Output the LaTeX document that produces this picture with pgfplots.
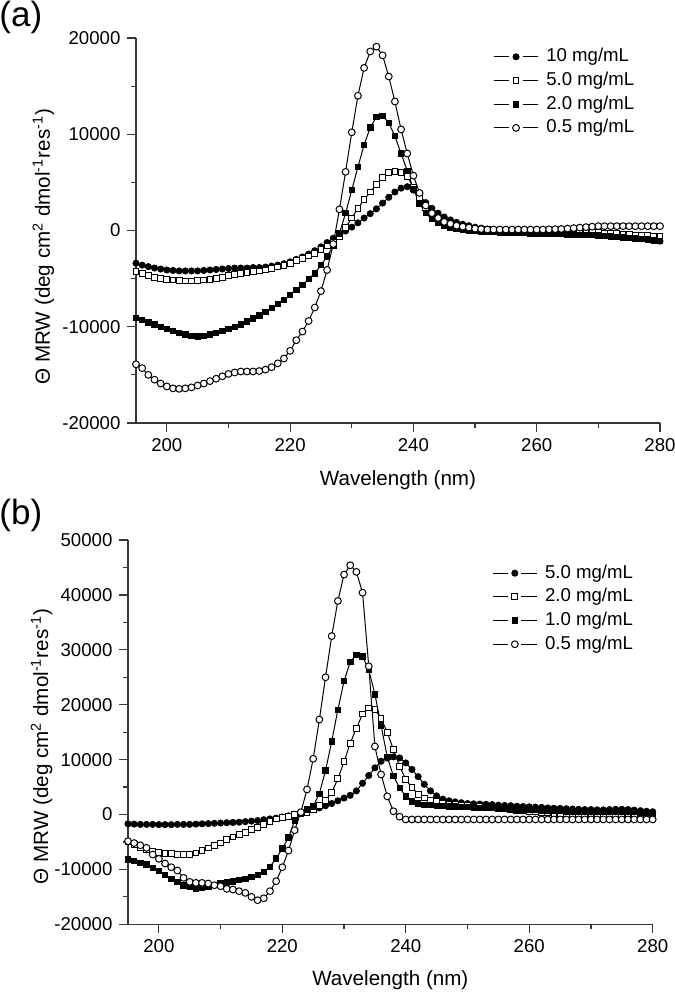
\documentclass[border=0pt]{standalone}
\usepackage{fontspec}
\setmainfont{Liberation Sans}
\usepackage{pgfplots}
\usepackage{pgfplotstable}
\pgfplotsset{compat=1.18}
\definecolor{axc}{RGB}{55,55,55}

\pgfplotstableread{
x a10 a5 a2 a05
195 -3400 -4300 -9100 -13900
196 -3600 -4500 -9300 -14300
197 -3750 -4700 -9550 -15000
198 -3900 -4850 -9750 -15500
199 -4000 -5000 -10000 -15900
200 -4100 -5100 -10200 -16200
201 -4150 -5150 -10450 -16400
202 -4200 -5200 -10650 -16450
203 -4200 -5250 -10800 -16400
204 -4200 -5250 -10950 -16300
205 -4200 -5200 -11000 -16100
206 -4150 -5150 -10950 -15900
207 -4100 -5050 -10800 -15650
208 -4050 -4950 -10650 -15400
209 -4000 -4850 -10450 -15150
210 -3950 -4700 -10200 -14900
211 -3900 -4600 -10000 -14750
212 -3900 -4500 -9750 -14650
213 -3900 -4400 -9450 -14650
214 -3850 -4300 -9150 -14650
215 -3850 -4200 -8800 -14600
216 -3800 -4100 -8450 -14450
217 -3700 -3950 -8050 -14200
218 -3600 -3800 -7650 -13800
219 -3450 -3600 -7200 -13300
220 -3250 -3400 -6700 -12500
221 -3000 -3150 -6200 -11400
222 -2750 -2900 -5650 -10500
223 -2450 -2650 -5050 -9400
224 -2100 -2350 -4450 -8000
225 -1700 -2000 -3600 -6300
226 -1250 -1600 -2700 -4100
227 -800 -1200 -1600 -1400
228 -400 -600 -300 2200
229 -50 300 1800 6100
230 350 1300 4200 10200
231 800 2300 6600 14000
232 1300 3200 8900 16900
233 1750 4000 10700 18600
234 2250 4800 11800 19100
235 2850 5500 11900 18200
236 3450 6000 11200 16000
237 4000 6100 9800 13400
238 4400 6050 8000 10500
239 4550 5600 6200 8000
240 4200 4500 4300 5700
241 3600 3300 2800 3900
242 2900 2400 1800 2600
243 2300 1800 1200 1800
244 1800 1300 800 1300
245 1400 950 500 900
246 1100 700 300 700
247 850 500 150 500
248 650 350 50 400
249 500 250 0 300
250 350 150 -50 200
251 250 100 -100 150
252 150 80 -130 100
253 100 60 -160 100
254 50 40 -190 100
255 0 20 -210 100
256 -50 0 -230 100
257 -100 0 -250 100
258 -150 -20 -270 100
259 -200 -40 -290 100
260 -250 -60 -300 100
261 -270 -80 -320 100
262 -290 -90 -340 120
263 -310 -100 -360 140
264 -330 -110 -380 160
265 -350 -120 -400 200
266 -370 -130 -420 250
267 -390 -150 -440 300
268 -410 -170 -460 350
269 -430 -190 -480 400
270 -450 -210 -500 450
271 -500 -250 -550 450
272 -550 -290 -600 450
273 -600 -330 -650 450
274 -650 -370 -700 450
275 -700 -410 -750 450
276 -780 -460 -800 450
277 -860 -510 -870 450
278 -940 -560 -940 450
279 -1020 -610 -1010 450
280 -1100 -650 -1080 450
}\tabA

\pgfplotstableread{
x b5 b2 b1 b05
195 -1700 -5000 -8200 -4860
196 -1750 -5500 -8500 -5200
197 -1800 -6000 -8800 -5600
198 -1800 -6400 -9100 -6070
199 -1800 -6700 -9700 -7290
200 -1850 -6900 -10300 -8080
201 -1850 -7050 -11000 -8930
202 -1850 -7150 -11700 -9600
203 -1800 -7250 -12300 -10200
204 -1800 -7300 -12900 -11540
205 -1800 -7250 -13200 -12270
206 -1750 -7000 -13450 -12450
207 -1700 -6550 -13400 -12450
208 -1650 -6100 -13100 -12570
209 -1600 -5650 -12800 -12880
210 -1550 -5200 -12550 -13060
211 -1500 -4600 -12350 -13540
212 -1450 -4100 -12150 -13670
213 -1400 -3650 -11950 -13970
214 -1300 -3250 -11700 -14270
215 -1200 -2800 -11400 -15000
216 -1100 -2400 -11000 -15610
217 -950 -1850 -10500 -15250
218 -800 -1250 -9500 -13970
219 -650 -800 -8000 -12150
220 -450 -600 -6200 -9600
221 -250 -300 -4200 -6560
222 0 0 -1100 -2860
223 250 100 300 420
224 550 400 900 4560
225 900 900 1500 10150
226 1200 1600 3800 17300
227 1600 2600 8000 25000
228 2000 4000 13300 32500
229 2500 6500 19100 38900
230 3000 9600 24300 43700
231 3500 13000 27800 45400
232 4300 15700 29100 44200
233 5700 18300 28800 40400
234 7100 19400 26400 27000
235 8500 19100 21900 12400
236 9700 17500 16200 7300
237 10300 15000 10500 3300
238 10500 11800 7000 600
239 10300 8800 4900 -400
240 9400 6400 3300 -900
241 8200 4900 2400 -900
242 6900 3700 2000 -900
243 5500 3000 1800 -900
244 4300 2600 1700 -900
245 3400 2300 1600 -900
246 2800 2100 1550 -900
247 2500 1900 1500 -900
248 2300 1800 1450 -900
249 2150 1700 1400 -900
250 2000 1600 1350 -900
251 1950 1500 1300 -900
252 1900 1400 1250 -900
253 1850 1300 1200 -900
254 1800 1200 1150 -900
255 1700 1100 1100 -900
256 1650 1000 1050 -900
257 1600 900 1000 -900
258 1500 800 950 -900
259 1450 700 900 -900
260 1400 600 850 -900
261 1350 500 800 -900
262 1300 400 760 -900
263 1200 300 720 -900
264 1150 200 680 -900
265 1100 100 640 -900
266 1050 0 600 -900
267 1000 -100 570 -900
268 950 -150 540 -900
269 900 -200 510 -900
270 900 -250 480 -900
271 850 -280 470 -900
272 850 -300 500 -900
273 900 -320 550 -900
274 950 -340 600 -900
275 950 -360 600 -900
276 900 -380 550 -900
277 800 -400 450 -900
278 700 -420 350 -900
279 600 -440 250 -900
280 500 -450 150 -900
}\tabB

\pgfplotsset{
  myaxis/.style={
    scale only axis,
    xmin=195, xmax=280,
    axis x line*=bottom, axis y line*=left,
    tick align=outside,
    xtick={200,220,240,260,280},
    minor x tick num=1, minor y tick num=1,
    scaled y ticks=false, scaled x ticks=false,
    major tick length=4.3bp, minor tick length=2.4bp,
    every tick/.style={line width=0.6bp, color=axc},
    axis line style={line width=0.6bp, color=axc},
    ticklabel style={font=\fontsize{9.3bp}{11bp}\selectfont},
    /pgf/number format/assume math mode=true,
    /pgf/number format/1000 sep={},
    label style={font=\fontsize{10.3bp}{12bp}\selectfont},
    xlabel={Wavelength (nm)},
    ylabel={Θ MRW (deg cm\textsuperscript{2} dmol\textsuperscript{-1}res\textsuperscript{-1})},
    legend cell align=left,
    legend style={draw=none, fill=none, anchor=north west, inner sep=0pt,
      font=\fontsize{9.3bp}{11bp}\selectfont, row sep=0pt,
      nodes={inner sep=0pt, text height=8.4bp, text depth=3.45bp},
      /tikz/every odd column/.append style={column sep=3.8bp}},
    legend image code/.code={
      \draw[##1,mark=none] (0bp,0bp) -- (7.5bp,0bp);
      \draw[##1,mark=none] (14.2bp,0bp) -- (22bp,0bp);
      \draw[##1] plot coordinates {(10.9bp,0bp)};
    },
  },
  s1/.style={black, line width=0.5bp, mark=*, mark size=1.55bp, mark options={fill=black, line width=0.4bp}},
  s2/.style={black, line width=0.5bp, mark=square*, mark size=1.45bp, mark options={fill=white, line width=0.5bp}},
  s3/.style={black, line width=0.5bp, mark=square*, mark size=1.35bp, mark options={fill=black, line width=0.4bp}},
  s4/.style={black, line width=0.5bp, mark=*, mark size=1.7bp, mark options={fill=white, line width=0.5bp}},
}

\begin{document}
\begin{tikzpicture}
\path[use as bounding box] (0,0) rectangle (337.5bp,-496bp);
\node[anchor=base west, inner sep=0pt, font=\fontsize{17.5bp}{20bp}\selectfont] at (-0.5bp,-13bp) {(a)};
\node[anchor=base west, inner sep=0pt, font=\fontsize{17.5bp}{20bp}\selectfont] at (-0.5bp,-262bp) {(b)};

\begin{axis}[myaxis,
  at={(68bp,-211.5bp)}, anchor=south west,
  width=262bp, height=192.5bp,
  ymin=-20000, ymax=20000,
  ytick={-20000,-10000,0,10000,20000},
  xlabel style={at={(axis description cs:0.5,0)}, anchor=center, yshift=-28.5bp},
  ylabel style={at={(axis description cs:-0.177,0.458)}, anchor=center},
  legend style={at={(axis description cs:0.682,0.983)}},
]
\addplot[s1] table[x=x,y=a10]{\tabA};
\addplot[s2] table[x=x,y=a5]{\tabA};
\addplot[s3] table[x=x,y=a2]{\tabA};
\addplot[s4] table[x=x,y=a05]{\tabA};
\legend{10 mg/mL, 5.0 mg/mL, 2.0 mg/mL, 0.5 mg/mL}
\end{axis}

\begin{axis}[myaxis,
  at={(64bp,-462.15bp)}, anchor=south west,
  width=262.35bp, height=192.15bp,
  ymin=-20000, ymax=50000,
  ytick={-20000,-10000,...,50000},
  xlabel style={at={(axis description cs:0.5,0)}, anchor=center, yshift=-27.85bp},
  ylabel style={at={(axis description cs:-0.1646,0.4627)}, anchor=center},
  legend style={at={(axis description cs:0.694,0.9456)}},
]
\addplot[s1] table[x=x,y=b5]{\tabB};
\addplot[s2] table[x=x,y=b2]{\tabB};
\addplot[s3] table[x=x,y=b1]{\tabB};
\addplot[s4] table[x=x,y=b05]{\tabB};
\legend{5.0 mg/mL, 2.0 mg/mL, 1.0 mg/mL, 0.5 mg/mL}
\end{axis}
\end{tikzpicture}
\end{document}
